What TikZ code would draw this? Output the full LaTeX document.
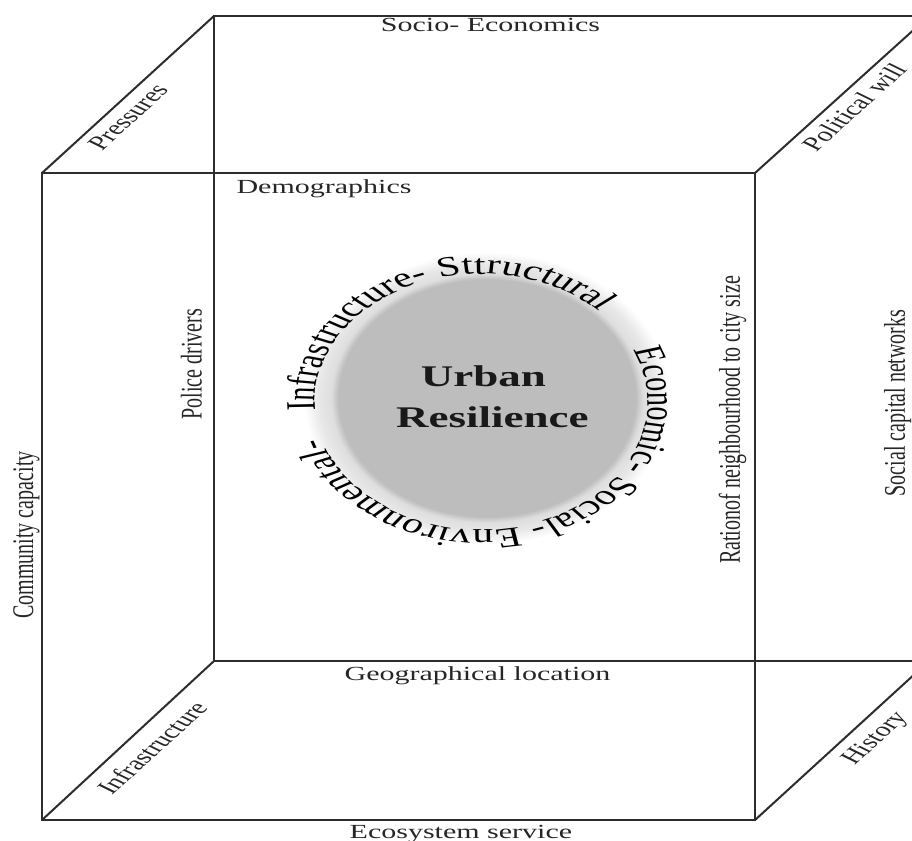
\documentclass[tikz,border=0pt]{standalone}
\usepackage{fontspec}
\setmainfont{Liberation Serif}
\usetikzlibrary{decorations.text}
\definecolor{linegray}{RGB}{45,45,45}
\definecolor{coreg}{RGB}{189,189,189}
\definecolor{glowg}{RGB}{222,222,222}
\pgfdeclareradialshading{urglow}{\pgfpoint{0bp}{0bp}}{color(0bp)=(coreg); color(20.3bp)=(coreg); color(21.3bp)=(glowg); color(23bp)=(glowg!70!white); color(25bp)=(white); color(50bp)=(white)}
\newcommand\lblsize{\fontsize{20}{24}\selectfont}
\newcommand\ringsize{\fontsize{28}{32}\selectfont}
\newcommand\titlesize{\fontsize{30}{34}\selectfont\bfseries}
\begin{document}
\begin{tikzpicture}[x=1pt,y=-1pt,
  edge/.style={draw=linegray,line width=2pt,line join=miter},
  lbl/.style={font=\lblsize,inner sep=0pt,text=black!85},
  ttl/.style={font=\titlesize,inner sep=0pt,text=black!90},
  ring/.style={decorate,decoration={text along path,text align=left,text={|\ringsize|#1}}}]
\useasboundingbox (0,0) rectangle (912,840);
\fill[white] (0,0) rectangle (912,840);
\clip (0,0) rectangle (912,840);
% cube corners
\coordinate (ftl) at (42,173);
\coordinate (ftr) at (755,173);
\coordinate (fbr) at (755,820);
\coordinate (fbl) at (42,820);
\coordinate (btl) at (214,16);
\coordinate (btr) at (929,16);
\coordinate (bbr) at (929,661);
\coordinate (bbl) at (214,661);
\draw[edge] (ftl) -- (ftr) -- (fbr) -- (fbl) -- cycle;
\draw[edge] (btl) -- (btr) -- (bbr) -- (bbl) -- cycle;
\draw[edge] (ftl) -- (btl);
\draw[edge] (ftr) -- (btr);
\draw[edge] (fbl) -- (bbl);
\draw[edge] (fbr) -- (bbr);
% central disc
\shade[shading=urglow] (487,398) ellipse [x radius=183, y radius=146];
\begin{scope}[transform canvas={xscale=1.5}]
\node[lbl,anchor=base] (socio) at (327,32) {Socio- Economics};
\node[lbl,anchor=base] (demo) at (216,193) {Demographics};
\node[lbl,anchor=base] (geo) at (318.3,680) {Geographical location};
\node[lbl,anchor=base] (eco) at (307.3,838) {Ecosystem service};
\node[lbl,anchor=base,rotate=90] (comm) at (22,535) {Community capacity};
\node[lbl,anchor=base,rotate=90] (police) at (134.4,364) {Police drivers};
\node[lbl,anchor=base,rotate=90] (ratio) at (493.3,420) {Rationof neighbourhood to city size};
\node[lbl,anchor=base,rotate=90] (social) at (603.3,403) {Social capital networks};
\node[lbl,rotate=53.5] (press) at (85.3,117) {Pressures};
\node[lbl,rotate=53.5] (polit) at (569.3,107) {Political will};
\node[lbl,rotate=53.5] (infra) at (101.3,748) {Infrastructure};
\node[lbl,rotate=53.5] (hist) at (584,739) {History};
\node[ttl,anchor=base] (urban) at (322.3,386.7) {Urban};
\node[ttl,anchor=base] (resil) at (328.3,427) {Resilience};
\path[ring={Infrastructure- Sttructural}] (321,402) ++(176:111 and 128)
  arc[start angle=176,end angle=330,x radius=111,y radius=128];
\path[ring={Economic- Social- Environmental-}] (321,402) ++(336:111 and 128)
  arc[start angle=336,end angle=530,x radius=111,y radius=128];
\end{scope}
\end{tikzpicture}
\end{document}
